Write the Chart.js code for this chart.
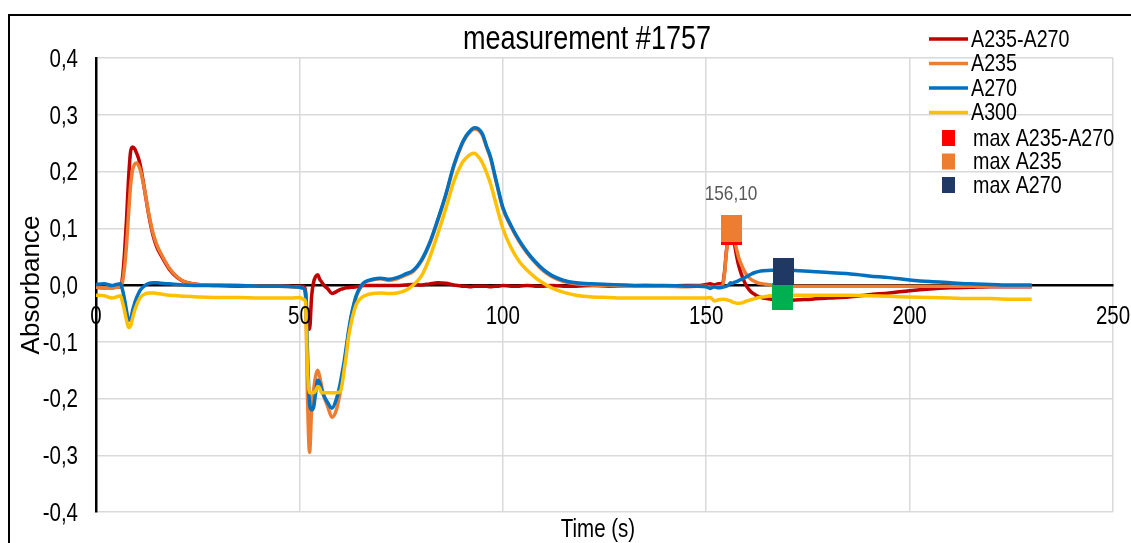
<!DOCTYPE html>
<html lang="en">
<head>
<meta charset="UTF-8">
<title>measurement #1757</title>
<script src="https://cdn.jsdelivr.net/npm/chart.js"></script>
<style>
    html, body {
        margin: 0;
        padding: 0;
        background: #fff;
        overflow: hidden;
    }

    .frame {
        position: absolute;
        left: 8px;
        top: 14px;
        width: 1200px;
        height: 600px;
        border: 2px solid #000;
        box-sizing: border-box;
    }

    #absChart {
        position: absolute;
        left: 0;
        top: 0;
    }
</style>
</head>
<body>
<div class="frame"></div>
<canvas id="absChart" width="1131" height="543"></canvas>

<script>
    // time axis (s), shared by the four absorbance traces
    const timeS = [
        0, 2, 4, 5, 6,
        6.5, 7, 7.5, 8, 8.5, 9, 9.5, 10, 10.5, 11, 12, 13, 14, 15, 16, 18, 20, 22, 25,
        30, 35, 40, 45, 48, 50, 51,
        51.5, 52, 52.5, 53, 53.5, 54, 54.5, 55, 55.5, 56, 57, 58, 59, 60,
        60.5, 61, 61.5, 62, 62.5, 63, 64, 65, 66, 68, 70,
        72, 74, 76, 78, 80, 82, 84, 86, 88, 90, 91, 92, 93, 94, 95,
        96, 97, 98, 99, 100, 102, 104, 106, 108, 110, 112, 115, 118, 122, 126, 130,
        135, 140, 145, 148, 150, 151, 152, 153, 154,
        154.5, 155, 155.5, 156, 156.5, 157, 157.5, 158, 159, 160, 161, 162, 163, 164,
        166, 168, 170, 173, 176, 180, 185, 190, 195, 200, 205, 210, 215, 220, 225, 230
    ];

    const a235minus270 = [
        -0.004, -0.005, -0.005, -0.004, -0.003,
        0.013, 0.055, 0.115, 0.187, 0.235, 0.243, 0.240, 0.232, 0.222, 0.207, 0.165, 0.122, 0.088, 0.066, 0.052, 0.028, 0.013, 0.005, 0.001,
        -0.001, -0.002, -0.002, -0.002, -0.002, -0.002, -0.002,
        -0.010, -0.070, -0.078, -0.020, 0.005, 0.015, 0.018, 0.010, 0.005, 0.000, -0.007, -0.015, -0.012, -0.008,
        -0.007, -0.006, -0.005, -0.005, -0.004, -0.004, -0.003, -0.002, -0.001, -0.001, -0.001,
        -0.001, -0.001, 0.000, 0.001, 0.000, 0.002, 0.004, 0.003, 0.000, -0.002, -0.002, -0.003, -0.002, -0.002, -0.002,
        -0.002, -0.003, -0.002, -0.002, -0.001, -0.002, -0.002, -0.001, -0.002, -0.002, -0.001, -0.002, -0.002, -0.001, -0.002, -0.002,
        -0.001, -0.002, -0.001, -0.001, 0.001, 0.002, 0.000, 0.002, 0.002,
        0.023, 0.062, 0.085, 0.095, 0.087, 0.070, 0.050, 0.034, 0.012, -0.003, -0.012, -0.017, -0.021, -0.023,
        -0.025, -0.026, -0.027, -0.026, -0.025, -0.023, -0.021, -0.017, -0.014, -0.010, -0.007, -0.005, -0.004, -0.003, -0.003, -0.003
    ];

    const a235 = [
        -0.004, -0.005, -0.005, -0.004, -0.003,
        0.005, 0.030, 0.070, 0.125, 0.175, 0.203, 0.213, 0.215, 0.210, 0.200, 0.165, 0.125, 0.092, 0.070, 0.055, 0.030, 0.014, 0.005, 0.001,
        0.000, -0.001, -0.002, -0.002, -0.003, -0.004, -0.006,
        -0.020, -0.200, -0.295, -0.220, -0.185, -0.160, -0.150, -0.162, -0.180, -0.195, -0.215, -0.233, -0.222, -0.190,
        -0.168, -0.145, -0.118, -0.090, -0.067, -0.048, -0.020, -0.005, 0.004, 0.009, 0.011,
        0.008, 0.011, 0.017, 0.024, 0.042, 0.072, 0.113, 0.158, 0.210, 0.248, 0.261, 0.270, 0.275, 0.273, 0.264,
        0.243, 0.223, 0.193, 0.163, 0.135, 0.103, 0.077, 0.056, 0.039, 0.025, 0.015, 0.006, 0.002, 0.000, -0.001, -0.002,
        -0.002, -0.002, -0.003, -0.002, -0.002, -0.004, -0.003, -0.003, -0.002,
        0.020, 0.060, 0.085, 0.100, 0.092, 0.078, 0.062, 0.048, 0.030, 0.017, 0.010, 0.006, 0.003, 0.002,
        0.000, -0.001, -0.002, -0.002, -0.002, -0.002, -0.002, -0.002, -0.002, -0.002, -0.002, -0.002, -0.002, -0.002, -0.002, -0.002
    ];

    const a270 = [
        0.001, 0.002, -0.001, 0.001, 0.002,
        -0.008, -0.025, -0.045, -0.062, -0.060, -0.045, -0.032, -0.022, -0.014, -0.008, -0.001, 0.003, 0.004, 0.004, 0.003, 0.002, 0.001, 0.000, -0.001,
        -0.001, -0.001, -0.002, -0.002, -0.003, -0.004, -0.006,
        -0.015, -0.120, -0.210, -0.220, -0.215, -0.190, -0.168, -0.172, -0.185, -0.195, -0.208, -0.217, -0.203, -0.175,
        -0.155, -0.135, -0.110, -0.085, -0.063, -0.045, -0.018, -0.003, 0.005, 0.010, 0.012,
        0.010, 0.013, 0.019, 0.026, 0.044, 0.074, 0.115, 0.160, 0.212, 0.250, 0.263, 0.272, 0.277, 0.275, 0.266,
        0.245, 0.225, 0.195, 0.165, 0.137, 0.105, 0.079, 0.058, 0.041, 0.027, 0.017, 0.008, 0.004, 0.002, 0.001, 0.000,
        -0.001, -0.001, -0.002, -0.002, -0.003, -0.006, -0.003, -0.005, -0.004,
        -0.003, -0.002, 0.000, 0.004, 0.003, 0.005, 0.006, 0.008, 0.011, 0.015, 0.019, 0.022, 0.024, 0.025,
        0.026, 0.026, 0.026, 0.025, 0.024, 0.022, 0.020, 0.016, 0.013, 0.009, 0.006, 0.004, 0.002, 0.001, 0.000, 0.000
    ];

    const a300 = [
        -0.018, -0.019, -0.023, -0.021, -0.019,
        -0.030, -0.045, -0.062, -0.075, -0.072, -0.058, -0.045, -0.035, -0.027, -0.021, -0.016, -0.014, -0.014, -0.015, -0.016, -0.018, -0.019, -0.020, -0.021,
        -0.022, -0.022, -0.023, -0.023, -0.023, -0.022, -0.025,
        -0.030, -0.150, -0.190, -0.190, -0.190, -0.186, -0.179, -0.182, -0.190, -0.190, -0.190, -0.190, -0.190, -0.188,
        -0.175, -0.150, -0.125, -0.095, -0.075, -0.058, -0.034, -0.024, -0.019, -0.015, -0.014,
        -0.015, -0.014, -0.010, 0.000, 0.016, 0.048, 0.090, 0.135, 0.183, 0.215, 0.224, 0.230, 0.232, 0.226, 0.215,
        0.198, 0.178, 0.152, 0.125, 0.100, 0.066, 0.042, 0.026, 0.013, 0.003, -0.005, -0.013, -0.018, -0.021, -0.022, -0.023,
        -0.023, -0.023, -0.023, -0.023, -0.023, -0.022, -0.028, -0.026, -0.025,
        -0.025, -0.026, -0.027, -0.028, -0.030, -0.031, -0.032, -0.032, -0.031, -0.028, -0.026, -0.024, -0.022, -0.021,
        -0.019, -0.018, -0.018, -0.018, -0.018, -0.018, -0.018, -0.019, -0.020, -0.021, -0.022, -0.023, -0.024, -0.024, -0.025, -0.025
    ];

    // detected maxima: [time, absorbance]
    const maxA235minus270 = [156.1, 0.095];
    const maxA235 = [156.1, 0.100];
    const maxA270 = [169.0, 0.024];
    const a300AtMax = [168.7, -0.021];

    const xTicks = [0, 50, 100, 150, 200, 250];
    const yTicks = [-0.4, -0.3, -0.2, -0.1, 0, 0.1, 0.2, 0.3, 0.4];

    const FONT = '"Liberation Sans", Arial, sans-serif';
    const SQUEEZE = 0.82; // condensed look for horizontal text

    const comma = (v, d) => v.toFixed(d).replace('.', ',');
    const toPoints = vals => timeS.map((t, i) => ({ x: t, y: vals[i] }));

    // horizontally condensed text
    function narrowText(ctx, text, x, y, size, align) {
        ctx.save();
        ctx.translate(x, y);
        ctx.scale(SQUEEZE, 1);
        ctx.font = size + 'px ' + FONT;
        ctx.textAlign = align;
        ctx.textBaseline = 'middle';
        ctx.fillText(text, 0, 0);
        ctx.restore();
    }

    // filled rectangle used as point marker
    function makeMarker(color, w, h) {
        const c = document.createElement('canvas');
        c.width = w;
        c.height = h;
        const g = c.getContext('2d');
        g.fillStyle = color;
        g.fillRect(0, 0, w, h);
        return c;
    }

    const traces = [
        { label: 'A235-A270', data: a235minus270, color: '#C00000', order: 5 },
        { label: 'A235', data: a235, color: '#ED7D31', order: 4 },
        { label: 'A270', data: a270, color: '#0070C0', order: 3 },
        { label: 'A300', data: a300, color: '#FFC000', order: 2 }
    ];

    const markers = [
        { label: 'max A235-A270', pt: maxA235minus270, color: '#FF0000', order: 1, legend: true },
        { label: 'max A235', pt: maxA235, color: '#ED7D31', order: 0, legend: true },
        { label: 'max A270', pt: maxA270, color: '#203864', order: 0, legend: true },
        { label: 'A300', pt: a300AtMax, color: '#00B050', order: 0, legend: false }
    ];

    const datasets = traces.map(s => ({
        label: s.label,
        data: toPoints(s.data),
        showLine: true,
        borderColor: s.color,
        backgroundColor: s.color,
        borderWidth: 3.5,
        pointRadius: 0,
        cubicInterpolationMode: 'monotone',
        order: s.order
    })).concat(markers.map(m => ({
        label: m.label,
        data: [{ x: m.pt[0], y: m.pt[1] }],
        showLine: false,
        pointStyle: makeMarker(m.color, 21, 27),
        order: m.order
    })));

    // tick labels, titles, legend and the value label over the A235 maximum
    const decorations = {
        id: 'decorations',
        afterDraw(chart) {
            const ctx = chart.ctx;
            const xs = chart.scales.x;
            const ys = chart.scales.y;
            const zeroY = ys.getPixelForValue(0);
            ctx.save();
            ctx.fillStyle = '#000';

            xTicks.forEach(v => narrowText(ctx, String(v), xs.getPixelForValue(v), zeroY + 32, 25, 'center'));
            yTicks.forEach(v => narrowText(ctx, comma(v, 1), 78, ys.getPixelForValue(v) + 2, 25, 'right'));

            narrowText(ctx, 'measurement #1757', 587, 40, 33, 'center');
            narrowText(ctx, 'Time (s)', 598, 530, 25, 'center');

            ctx.save();
            ctx.translate(32, 285);
            ctx.rotate(-Math.PI / 2);
            ctx.font = '26px ' + FONT;
            ctx.textAlign = 'center';
            ctx.textBaseline = 'middle';
            ctx.fillText('Absorbance', 0, 0);
            ctx.restore();

            // legend
            let y = 39;
            traces.forEach(s => {
                ctx.strokeStyle = s.color;
                ctx.lineWidth = 3.5;
                ctx.beginPath();
                ctx.moveTo(929, y);
                ctx.lineTo(968, y);
                ctx.stroke();
                ctx.fillStyle = '#000';
                narrowText(ctx, s.label, 971, y + 1, 24, 'left');
                y += 24.5;
            });
            y = 138;
            markers.filter(m => m.legend).forEach(m => {
                ctx.fillStyle = m.color;
                ctx.fillRect(942, y - 8, 13, 16);
                ctx.fillStyle = '#000';
                narrowText(ctx, m.label, 973, y + 1, 24, 'left');
                y += 23.5;
            });

            // value label of the A235 maximum
            const p = chart.getDatasetMeta(traces.length + 1).data[0];
            ctx.fillStyle = '#595959';
            narrowText(ctx, comma(maxA235[0], 2), p.x, p.y - 34, 21, 'center');
            ctx.restore();
        }
    };

    new Chart(document.getElementById('absChart'), {
        type: 'scatter',
        data: { datasets: datasets },
        options: {
            responsive: false,
            animation: false,
            events: [],
            layout: {
                padding: { left: 0, right: 18, top: 58, bottom: 31 }
            },
            plugins: {
                legend: { display: false },
                tooltip: { enabled: false }
            },
            scales: {
                x: {
                    type: 'linear',
                    position: { y: 0 },
                    min: xTicks[0],
                    max: xTicks[xTicks.length - 1],
                    afterBuildTicks: s => { s.ticks = xTicks.map(v => ({ value: v })); },
                    afterFit: s => { s.paddingLeft = 0; s.paddingRight = 0; },
                    ticks: { display: false },
                    grid: { color: '#d9d9d9', lineWidth: 1.5, drawTicks: false },
                    border: { color: '#000', width: 2.5 }
                },
                y: {
                    min: yTicks[0],
                    max: yTicks[yTicks.length - 1],
                    afterBuildTicks: s => { s.ticks = yTicks.map(v => ({ value: v })); },
                    afterFit: s => { s.width = 96; s.paddingTop = 0; s.paddingBottom = 0; },
                    ticks: { display: false },
                    grid: { color: '#d9d9d9', lineWidth: 1.5, drawTicks: false },
                    border: { color: '#000', width: 2.5 }
                }
            }
        },
        plugins: [decorations]
    });
</script>
</body>
</html>
